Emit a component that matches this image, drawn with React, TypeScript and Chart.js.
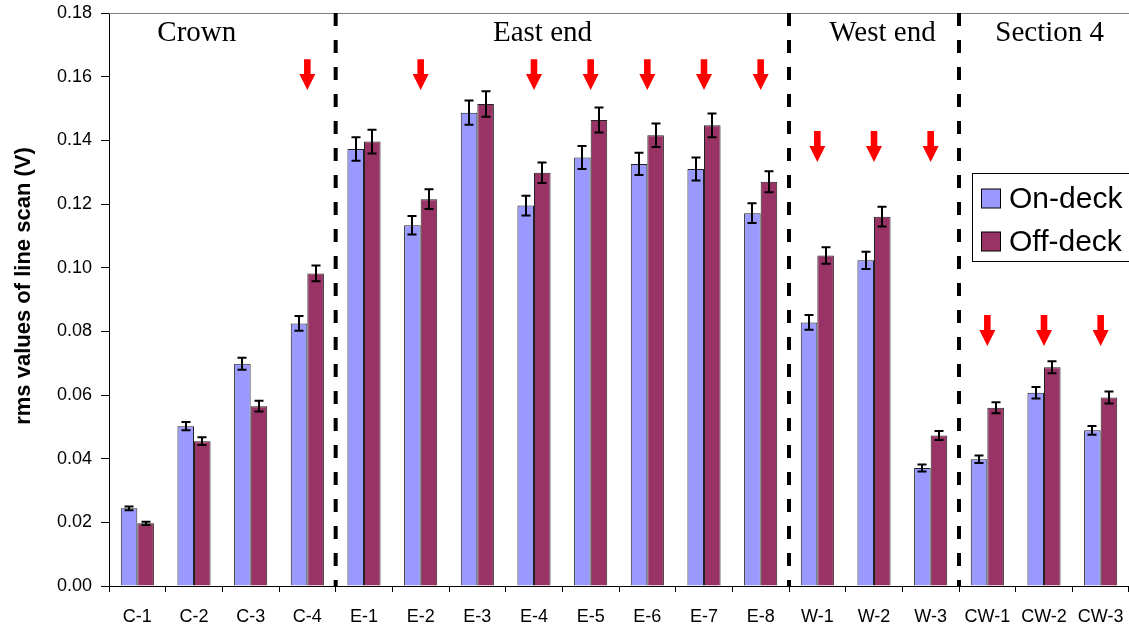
import React, { useEffect, useRef } from "react";
import { Chart, registerables } from "chart.js";

Chart.register(...registerables);

// ---------- data ----------
const categories = ["C-1", "C-2", "C-3", "C-4", "E-1", "E-2", "E-3", "E-4", "E-5", "E-6", "E-7", "E-8", "W-1", "W-2", "W-3", "CW-1", "CW-2", "CW-3"];
const onDeck = [0.0244, 0.0502, 0.0698, 0.0825, 0.1373, 0.1133, 0.1487, 0.1195, 0.1346, 0.1326, 0.1310, 0.1171, 0.0828, 0.1023, 0.0371, 0.0398, 0.0607, 0.0489];
const offDeck = [0.0197, 0.0455, 0.0565, 0.0982, 0.1396, 0.1215, 0.1514, 0.1298, 0.1464, 0.1416, 0.1447, 0.1270, 0.1038, 0.1160, 0.0473, 0.0560, 0.0687, 0.0592];
const onDeckErr = [0.0006, 0.0013, 0.0019, 0.0023, 0.0037, 0.0029, 0.0038, 0.0031, 0.0036, 0.0035, 0.0036, 0.0031, 0.0023, 0.0027, 0.0011, 0.0012, 0.0018, 0.0014];
const offDeckErr = [0.0005, 0.0012, 0.0017, 0.0025, 0.0037, 0.0031, 0.0040, 0.0032, 0.0039, 0.0037, 0.0037, 0.0033, 0.0026, 0.0031, 0.0014, 0.0017, 0.0019, 0.0019];
const seriesNames = ["On-deck", "Off-deck"];
const yTicks = [0, 0.02, 0.04, 0.06, 0.08, 0.1, 0.12, 0.14, 0.16, 0.18];
const yTitle = "rms values of line scan (V)";

const sectionLabels = ["Crown", "East end", "West end", "Section 4"];
const sectionLabelPos = [1.05, 7.15, 13.15, 16.1];
const sectionBoundaries = [3.5, 11.5, 14.5];

const arrowCategories = ["C-4", "E-2", "E-4", "E-5", "E-6", "E-7", "E-8", "W-1", "W-2", "W-3", "CW-1", "CW-2", "CW-3"];
const arrowTops = [0.1655, 0.1655, 0.1655, 0.1655, 0.1655, 0.1655, 0.1655, 0.1429, 0.1429, 0.1429, 0.0851, 0.0851, 0.0851];
const arrowTips = [0.1558, 0.1558, 0.1558, 0.1558, 0.1558, 0.1558, 0.1558, 0.1332, 0.1332, 0.1332, 0.0754, 0.0754, 0.0754];

const colors = ["#9999FF", "#993366"];
const SANS = "'Liberation Sans', Arial, sans-serif";
const SERIF = "'Liberation Serif', 'Times New Roman', serif";

const decorPlugin = {
  id: "decor",
  afterDatasetsDraw(chart: any) {
    const ctx = chart.ctx;
    const xs = chart.scales.x;
    const ys = chart.scales.y;
    const area = chart.chartArea;
    ctx.save();

    // top border
    ctx.strokeStyle = "#808080";
    ctx.lineWidth = 1;
    ctx.beginPath();
    ctx.moveTo(area.left, area.top + 0.5);
    ctx.lineTo(area.right, area.top + 0.5);
    ctx.stroke();

    // error bars
    const errs = [onDeckErr, offDeckErr];
    const vals = [onDeck, offDeck];
    ctx.strokeStyle = "#000";
    ctx.lineWidth = 2;
    chart.data.datasets.forEach((_: any, di: number) => {
      const meta = chart.getDatasetMeta(di);
      meta.data.forEach((bar: any, i: number) => {
        const v = vals[di][i];
        const e = errs[di][i];
        const yt = ys.getPixelForValue(v + e);
        const yb = ys.getPixelForValue(v - e);
        const x = Math.round(bar.x);
        ctx.beginPath();
        ctx.moveTo(x, yt);
        ctx.lineTo(x, yb);
        ctx.moveTo(x - 4.5, yt);
        ctx.lineTo(x + 4.5, yt);
        ctx.moveTo(x - 4.5, yb);
        ctx.lineTo(x + 4.5, yb);
        ctx.stroke();
      });
    });

    // dashed section lines
    ctx.strokeStyle = "#000";
    ctx.lineWidth = 4;
    ctx.setLineDash([13, 14]);
    sectionBoundaries.forEach((b) => {
      const x = xs.getPixelForValue(b);
      ctx.beginPath();
      ctx.moveTo(x, area.top);
      ctx.lineTo(x, area.bottom);
      ctx.stroke();
    });
    ctx.setLineDash([]);

    // section labels
    ctx.fillStyle = "#000";
    ctx.font = `29px ${SERIF}`;
    ctx.textAlign = "center";
    ctx.textBaseline = "alphabetic";
    sectionLabels.forEach((t, i) => {
      ctx.fillText(t, xs.getPixelForValue(sectionLabelPos[i]), area.top + 28);
    });

    // red arrows
    ctx.fillStyle = "#FF0000";
    arrowCategories.forEach((c, i) => {
      const x = xs.getPixelForValue(categories.indexOf(c));
      const yTop = ys.getPixelForValue(arrowTops[i]);
      const yTip = ys.getPixelForValue(arrowTips[i]);
      const headLen = 16;
      const shaftHalf = 3.3;
      const headHalf = 8;
      ctx.beginPath();
      ctx.moveTo(x - shaftHalf, yTop);
      ctx.lineTo(x + shaftHalf, yTop);
      ctx.lineTo(x + shaftHalf, yTip - headLen);
      ctx.lineTo(x + headHalf, yTip - headLen);
      ctx.lineTo(x, yTip);
      ctx.lineTo(x - headHalf, yTip - headLen);
      ctx.lineTo(x - shaftHalf, yTip - headLen);
      ctx.closePath();
      ctx.fill();
    });

    // legend
    const lx = 972.5, ly = 173.5, lw = 170, lh = 88;
    ctx.fillStyle = "#fff";
    ctx.fillRect(lx, ly, lw, lh);
    ctx.strokeStyle = "#000";
    ctx.lineWidth = 1;
    ctx.strokeRect(lx, ly, lw, lh);
    ctx.font = `30px ${SANS}`;
    ctx.textAlign = "left";
    ctx.textBaseline = "middle";
    seriesNames.forEach((n, i) => {
      const cy = 198.5 + i * 43;
      ctx.fillStyle = colors[i];
      ctx.fillRect(981.5, cy - 9.5, 19, 19);
      ctx.strokeRect(981.5, cy - 9.5, 19, 19);
      ctx.fillStyle = "#000";
      ctx.fillText(n, 1009, cy + 1);
    });

    // y-axis title
    ctx.save();
    ctx.translate(24, 286);
    ctx.rotate(-Math.PI / 2);
    ctx.font = `bold 22px ${SANS}`;
    ctx.textAlign = "center";
    ctx.textBaseline = "middle";
    ctx.fillStyle = "#000";
    ctx.fillText(yTitle, 0, 0);
    ctx.restore();

    ctx.restore();
  },
};

export default function App() {
  const ref = useRef<HTMLCanvasElement>(null);
  useEffect(() => {
    const chart = new Chart(ref.current as HTMLCanvasElement, {
      type: "bar",
      data: {
        labels: categories,
        datasets: [
          { label: seriesNames[0], data: onDeck, backgroundColor: colors[0], borderColor: "#222", borderWidth: 1 },
          { label: seriesNames[1], data: offDeck, backgroundColor: colors[1], borderColor: "#222", borderWidth: 1 },
        ],
      },
      options: {
        responsive: false,
        animation: false,
        layout: { padding: { top: 13, right: 0, left: 0, bottom: 0 } },
        datasets: { bar: { categoryPercentage: 0.585, barPercentage: 1 } },
        plugins: { legend: { display: false }, tooltip: { enabled: false } },
        scales: {
          x: {
            grid: { display: true, drawOnChartArea: false, tickLength: 6, color: "#000", offset: true },
            border: { display: true, color: "#000", width: 1 },
            ticks: { color: "#000", font: { family: SANS, size: 18 }, padding: 14, maxRotation: 0, autoSkip: false },
            afterFit: (s: any) => { s.height = 41; s.paddingLeft = 0; s.paddingRight = 0; },
          },
          y: {
            min: 0,
            max: 0.18,
            afterBuildTicks: (s: any) => { s.ticks = yTicks.map((v) => ({ value: v })); },
            grid: { display: true, drawOnChartArea: false, tickLength: 8, color: "#000" },
            border: { display: true, color: "#000", width: 1 },
            ticks: { color: "#000", font: { family: SANS, size: 18 }, padding: 9, callback: (v: any) => Number(v).toFixed(2) },
            afterFit: (s: any) => { s.width = 109; s.paddingTop = 0; s.paddingBottom = 0; },
          },
        },
      },
      plugins: [decorPlugin],
    });
    return () => chart.destroy();
  }, []);
  return (
    <div style={{ position: "fixed", left: 0, top: 0, width: 1129, height: 627, background: "#fff" }}>
      <canvas ref={ref} width={1129} height={627} />
    </div>
  );
}
